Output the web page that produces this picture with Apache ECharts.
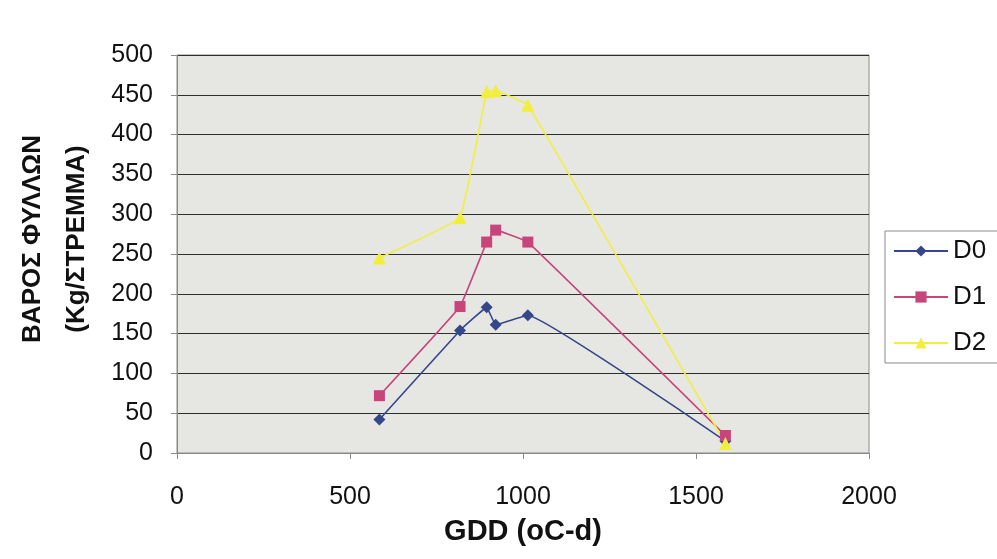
<!DOCTYPE html>
<html>
<head>
<meta charset="utf-8">
<script src="https://cdn.jsdelivr.net/npm/echarts@6/dist/echarts.min.js"></script>
<style>
html,body{margin:0;padding:0;background:#fff;}
#c{width:997px;height:559px;}
</style>
</head>
<body>
<div id="c"></div>
<script>
const gdd = [585, 818, 895, 921, 1014, 1585];
const d0 = [42, 154, 183, 161, 173, 15];
const d1 = [72, 184, 265, 280, 265, 22];
const d2 = [245, 296, 454, 455, 437, 12];
const seriesNames = ['D0', 'D1', 'D2'];
const xTicks = [0, 500, 1000, 1500, 2000];
const yTicks = [0, 50, 100, 150, 200, 250, 300, 350, 400, 450, 500];

const colors = ['#34478a', '#c8457c', '#f2ee3c'];
const symbols = ['diamond', 'rect', 'triangle'];
const sizes = [12, 11, 13];
const data = [d0, d1, d2];
const font = 'Liberation Sans, Arial, sans-serif';

const chart = echarts.init(document.getElementById('c'));
chart.setOption({
  backgroundColor: '#ffffff',
  animation: false,
  grid: {left: 177, right: 128, top: 55, bottom: 106, show: true, containLabel: false,
    outerBoundsMode: 'none',
    backgroundColor: '#e6e6e2', borderColor: '#8a8a8a', borderWidth: 1},
  legend: {
    orient: 'vertical', left: 885, top: 231,
    padding: [7, 40, 7, 8],
    borderColor: '#8a8a8a', borderWidth: 1, backgroundColor: '#ffffff',
    itemWidth: 54, itemHeight: 14, itemGap: 20,
    textStyle: {fontFamily: font, fontSize: 26, color: '#111'},
    data: seriesNames
  },
  xAxis: {
    type: 'value', min: xTicks[0], max: xTicks[xTicks.length-1], interval: 500,
    name: 'GDD (oC-d)', nameLocation: 'middle', nameGap: 64,
    nameTextStyle: {fontFamily: font, fontSize: 29, fontWeight: 'bold', color: '#111'},
    axisLine: {show: true, lineStyle: {color: '#8a8a8a'}},
    axisTick: {show: true, inside: false, length: 6, lineStyle: {color: '#8a8a8a'}},
    axisLabel: {fontFamily: font, fontSize: 25, color: '#111', margin: 32,
      formatter: v => String(v)},
    splitLine: {show: false}
  },
  yAxis: {
    type: 'value', min: yTicks[0], max: yTicks[yTicks.length-1], interval: 50,
    name: 'ΒΑΡΟΣ ΦΥΛΛΩΝ\n(Kg/ΣΤΡΕΜΜΑ)', nameLocation: 'middle', nameGap: 78,
    nameTextStyle: {fontFamily: font, fontSize: 26, fontWeight: 'bold', color: '#111', lineHeight: 44,
      padding: [0, 0, 0, 30]},
    axisLine: {show: true, lineStyle: {color: '#8a8a8a'}},
    axisTick: {show: true, length: 6, lineStyle: {color: '#8a8a8a'}},
    axisLabel: {fontFamily: font, fontSize: 25, color: '#111', margin: 24,
      formatter: v => String(v)},
    splitLine: {show: true, lineStyle: {color: '#2e2e2e', width: 1}}
  },
  series: seriesNames.map((n, i) => ({
    name: n, type: 'line', smooth: 0.07,
    symbol: symbols[i], symbolSize: sizes[i],
    itemStyle: {color: colors[i]},
    lineStyle: {color: colors[i], width: 1.6},
    data: gdd.map((g, k) => [g, data[i][k]])
  }))
});
</script>
</body>
</html>
